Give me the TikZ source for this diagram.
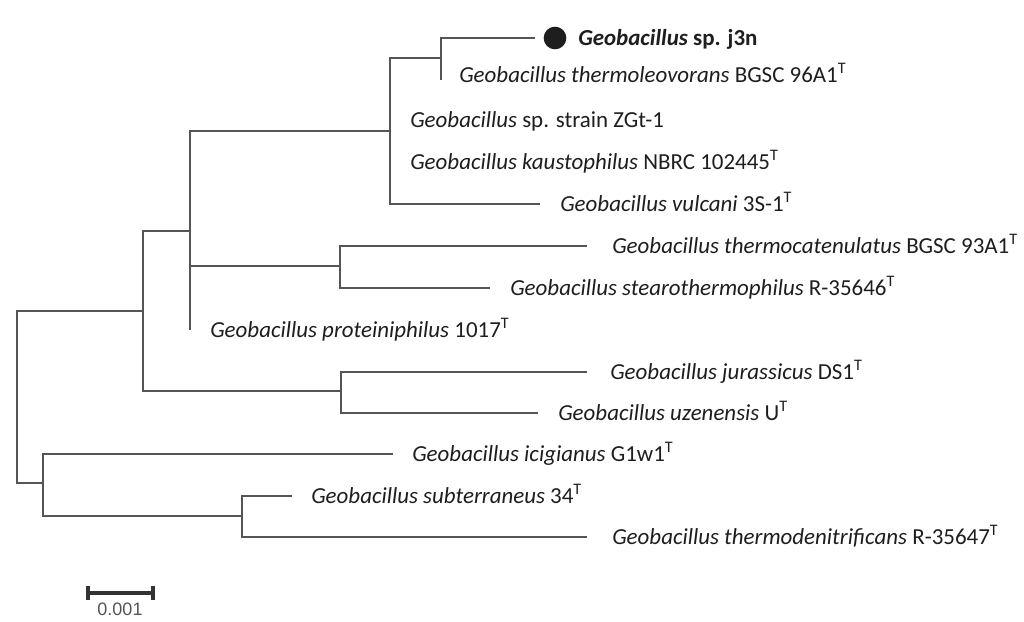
\documentclass[tikz,border=0pt]{standalone}
\usepackage{fontspec}
\setmainfont{Carlito}
\newfontfamily\scalefont{Liberation Sans}
\definecolor{branch}{HTML}{555555}
\definecolor{txt}{HTML}{1E1E1E}
\definecolor{bartxt}{HTML}{555555}
\newcommand{\G}[1]{\textit{Geobacillus #1}}
\newcommand{\Ty}{\textsuperscript{T}}
\tikzset{
  branchline/.style={draw=branch, line width=1.1pt},
  taxon/.style={anchor=base west, inner sep=0pt, text=txt, font=\fontsize{17.2}{20}\selectfont},
  scalebar/.style={line width=2.4pt, draw=black!80},
}
\begin{document}
\begin{tikzpicture}[x=0.75pt, y=-0.75pt]
\useasboundingbox[fill=white] (0,0) rectangle (1024,621);
% internal nodes
\coordinate (R) at (17,397);
\coordinate (D) at (143,311);
\coordinate (B) at (190,231);
\coordinate (A) at (390,131);
\coordinate (J) at (441,58);
\coordinate (C) at (340,266);
\coordinate (E) at (341,391);
\coordinate (F) at (43,483);
\coordinate (Gn) at (242,516);
% tips
\coordinate (tj3n) at (535,38);
\coordinate (tthl) at (441,80);
\coordinate (tzgt) at (390,120);
\coordinate (tkau) at (390,162);
\coordinate (tvul) at (540,204);
\coordinate (tthc) at (587,246);
\coordinate (tste) at (490,288);
\coordinate (tpro) at (190,330);
\coordinate (tjur) at (587,372);
\coordinate (tuze) at (538,413);
\coordinate (tici) at (393,454);
\coordinate (tsub) at (292,496);
\coordinate (tthd) at (587,537);
% branches
\path[branchline] (R) |- (D);
\path[branchline] (R) |- (F);
\path[branchline] (D) |- (B);
\path[branchline] (D) |- (E);
\path[branchline] (B) |- (A);
\path[branchline] (B) |- (C);
\path[branchline] (B) |- (tpro);
\path[branchline] (A) |- (J);
\path[branchline] (A) |- (tvul);
\path[branchline] (A) |- (tzgt);
\path[branchline] (A) |- (tkau);
\path[branchline] (J) |- (tj3n);
\path[branchline] (J) |- (tthl);
\path[branchline] (C) |- (tthc);
\path[branchline] (C) |- (tste);
\path[branchline] (E) |- (tjur);
\path[branchline] (E) |- (tuze);
\path[branchline] (F) |- (tici);
\path[branchline] (F) |- (Gn);
\path[branchline] (Gn) |- (tsub);
\path[branchline] (Gn) |- (tthd);
% marker
\node[circle, fill=txt, inner sep=0pt, minimum size=17pt] (dot) at (555,38) {};
% labels
\node[taxon] (lj3n) at (578,45) {\textbf{\textit{Geobacillus}} \textbf{sp. j3n}};
\node[taxon] (lthl) at (459,82) {\G{thermoleovorans} BGSC 96A1\Ty};
\node[taxon] (lzgt) at (410,127) {\textit{Geobacillus} sp. strain ZGt-1};
\node[taxon] (lkau) at (410,169) {\G{kaustophilus} NBRC 102445\Ty};
\node[taxon] (lvul) at (560,211) {\G{vulcani} 3S-1\Ty};
\node[taxon] (lthc) at (612,253) {\G{thermocatenulatus} BGSC 93A1\Ty};
\node[taxon] (lste) at (510,295) {\G{stearothermophilus} R-35646\Ty};
\node[taxon] (lpro) at (210,337) {\G{proteiniphilus} 1017\Ty};
\node[taxon] (ljur) at (610,379) {\G{jurassicus} DS1\Ty};
\node[taxon] (luze) at (558,420) {\G{uzenensis} U\Ty};
\node[taxon] (lici) at (412,461) {\G{icigianus} G1w1\Ty};
\node[taxon] (lsub) at (311,503) {\G{subterraneus} 34\Ty};
\node[taxon] (lthd) at (612,544) {\G{thermodenitrificans} R-35647\Ty};
% scale bar
\coordinate (sb1) at (88,593);
\coordinate (sb2) at (153,593);
\draw[scalebar] (sb1) -- (sb2);
\draw[scalebar] ([yshift=-5.5pt]sb1) -- ([yshift=5.5pt]sb1);
\draw[scalebar] ([yshift=-5.5pt]sb2) -- ([yshift=5.5pt]sb2);
\node[anchor=base, inner sep=0pt, text=bartxt, font=\scalefont\fontsize{13.5}{15}\selectfont] (sblabel) at (120,615) {0.001};
\end{tikzpicture}
\end{document}
